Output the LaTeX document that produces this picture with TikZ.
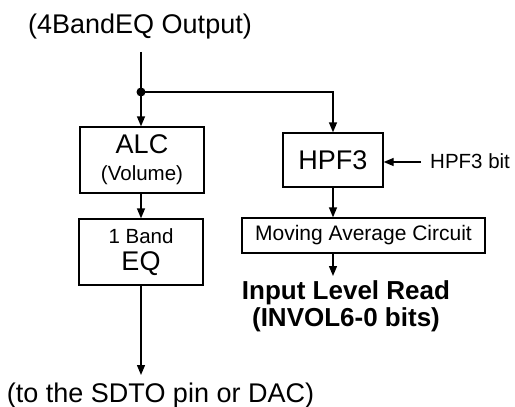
\documentclass[tikz,border=0pt]{standalone}
\usepackage{fontspec}
\setmainfont{Liberation Sans}
\usetikzlibrary{arrows.meta}

\newcommand{\bigsz}{\fontsize{27}{28}\selectfont}
\newcommand{\smsz}{\fontsize{20.5}{24}\selectfont}

\begin{document}
\begin{tikzpicture}[
  x=1pt, y=-1pt,
  every node/.style={font=\bigsz},
  arr/.style={-{Triangle[length=10pt,width=8pt]}, line width=1.3pt},
  wire/.style={line width=1.3pt},
  blk/.style={draw, line width=1.3pt, align=center, inner sep=0pt},
  lbl/.style={font=\smsz, inner sep=0pt}
]
\useasboundingbox (0,0) rectangle (515,407);

% Input
\node[anchor=base, inner sep=0pt] (src) at (140,33) {(4BandEQ Output)};
\coordinate (j) at (141,92);

% Left path
\node[blk, minimum width=124pt, minimum height=66pt] (alc) at (142,160)
  {\raisebox{-2pt}{ALC}\\[1pt]{\smsz (Volume)}};
\node[blk, minimum width=124pt, minimum height=66pt] (eq) at (141,252)
  {{\smsz 1 Band}\\[-1pt]EQ};
\node[anchor=base, inner sep=0pt] (out) at (160.5,402) {(to the SDTO pin or DAC)};
\coordinate (outtop) at (141,375);

% Right path
\node[blk, minimum width=100pt, minimum height=54pt] (hpf) at (333,160) {HPF3};
\node[lbl, anchor=west] (hbit) at (430,161) {HPF3 bit};
\coordinate (hb) at (421,162);
\node[blk, font=\fontsize{21}{24}\selectfont, minimum width=243pt, minimum height=35pt] (mac) at (363.5,235.5)
  {Moving Average Circuit};
\node[anchor=north, inner ysep=4pt, inner xsep=0pt, align=center, font=\fontsize{26}{27}\selectfont\bfseries] (rd) at (346,276)
  {Input Level Read\\(INVOL6-0 bits)};

% Connections
\draw[wire] (src.south -| j) ++(0,13) -- (j);
\fill (j) circle (4.5pt);
\draw[arr] (j) -- (j |- alc.north);
\draw[arr] (j) -| (hpf.north);
\draw[arr] (alc.south -| j) -- (eq.north -| j);
\draw[arr] (eq.south -| j) -- (outtop);
\draw[arr] (hb) -- (hpf.east |- hb);
\draw[arr] (hpf.south) -- (mac.north -| hpf.south);
\draw[arr] (mac.south -| hpf.south) -- (rd.north -| hpf.south);

\end{tikzpicture}
\end{document}
